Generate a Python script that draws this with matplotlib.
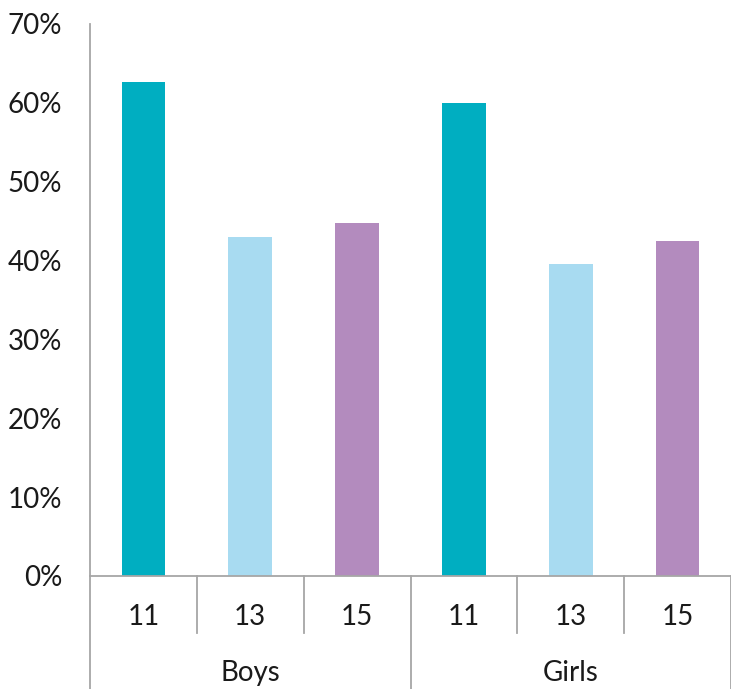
import matplotlib.pyplot as plt
from matplotlib.ticker import FuncFormatter

# values
groups = ['Boys', 'Girls']
ages = ['11', '13', '15']
boys = [62.6, 43.0, 44.8]
girls = [60.0, 39.6, 42.5]
colors = ['#00AEC1', '#A8DBF1', '#B38BBE']

plt.rcParams['font.family'] = ['Lato', 'DejaVu Sans']

fig = plt.figure(figsize=(7.31, 6.89), dpi=100)
ax = fig.add_axes([90 / 731, (689 - 576) / 689, 1 - 90 / 731, 552 / 689])

values = boys + girls
xs = list(range(len(values)))
bar_colors = colors * len(groups)
ax.bar(xs, values, width=0.41, color=bar_colors)

ax.set_xlim(-0.5, len(values) - 0.5)
ax.set_ylim(0, 70)
ax.set_yticks(range(0, 71, 10))
ax.yaxis.set_major_formatter(FuncFormatter(lambda v, p: f'{v:.0f}%'))
ax.tick_params(axis='y', length=0, pad=20, labelsize=20, labelcolor='#1a1a1a')
ax.set_xticks([])

for s in ['top', 'right']:
    ax.spines[s].set_visible(False)
for s in ['left', 'bottom']:
    ax.spines[s].set_color('#A6A6A6')
    ax.spines[s].set_linewidth(1.3)

# two-level category axis
trans = ax.get_xaxis_transform()
line_kw = dict(color='#A6A6A6', lw=1.3, transform=trans, clip_on=False)
for i in range(len(values) + 1):
    x = i - 0.5
    if i % len(ages) == 0:
        ax.plot([x, x], [0, -0.205], **line_kw)
    else:
        ax.plot([x, x], [0, -0.103], **line_kw)

for i, x in enumerate(xs):
    ax.text(x, -0.074, ages[i % len(ages)], transform=trans, ha='center',
            va='center', fontsize=20, color='#1a1a1a')
for g, name in enumerate(groups):
    xc = g * len(ages) + (len(ages) - 1) / 2
    ax.text(xc, -0.176, name, transform=trans, ha='center', va='center',
            fontsize=20, color='#1a1a1a')

fig.savefig('out.png', dpi=100)
